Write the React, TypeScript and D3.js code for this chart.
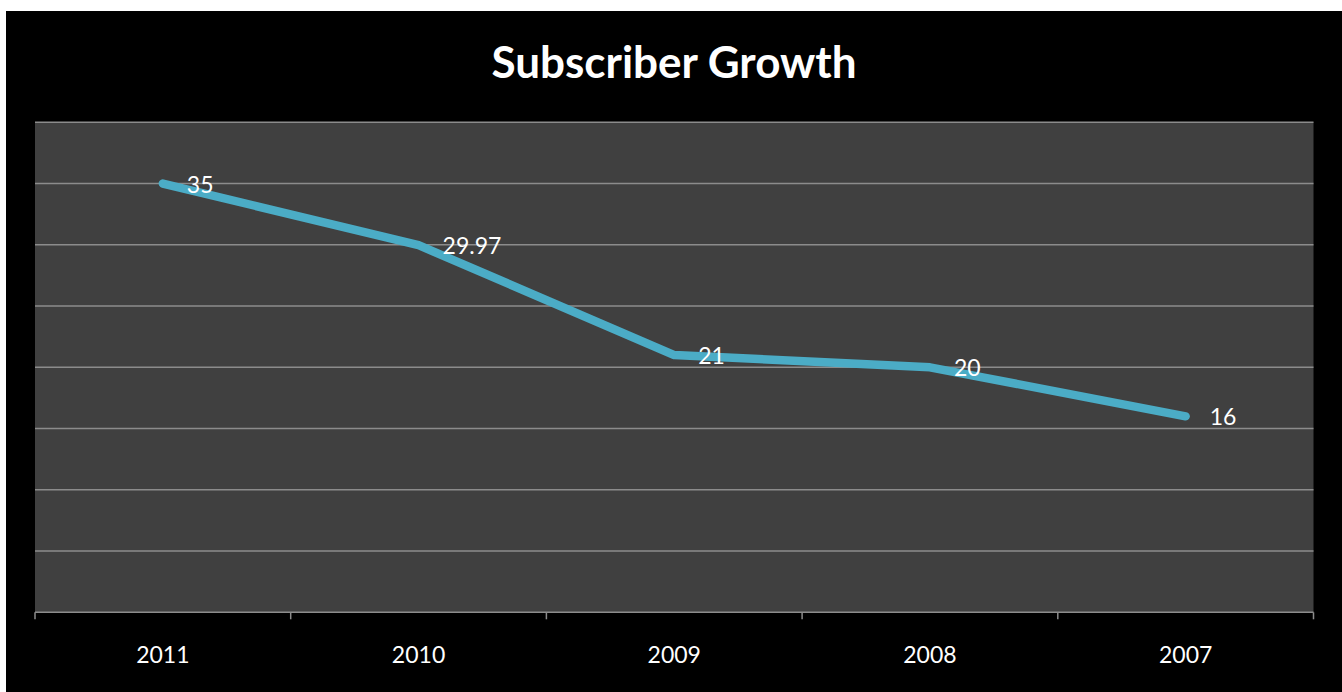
import React from "react";
import * as d3 from "d3";

const categories = ["2011", "2010", "2009", "2008", "2007"];
const values = [35, 29.97, 21, 20, 16];
const valueLabels = ["35", "29.97", "21", "20", "16"];
const yTicks = [0, 5, 10, 15, 20, 25, 30, 35, 40];
const title = "Subscriber Growth";

const W = 1342;
const H = 692;
const plot = { left: 35, right: 1313.5, top: 122.3, bottom: 612.3 };
const FONT = "Lato, 'Open Sans', sans-serif";

export default function App() {
  const x = d3
    .scaleBand<string>()
    .domain(categories)
    .range([plot.left, plot.right])
    .paddingInner(0)
    .paddingOuter(0);
  const y = d3.scaleLinear().domain([0, 40]).range([plot.bottom, plot.top]);
  const cx = (c: string) => (x(c) as number) + x.bandwidth() / 2;
  const line = d3
    .line<number>()
    .x((_, i) => cx(categories[i]))
    .y((v) => y(v));
  const tickXs = categories.map((c) => x(c) as number).concat([plot.right]);

  return (
    <svg
      width={W}
      height={H}
      style={{ position: "absolute", left: 0, top: 0, display: "block" }}
    >
      <rect x={0} y={0} width={W} height={H} fill="#ffffff" />
      <rect x={6} y={11} width={W - 6} height={H - 11} fill="#000000" />
      <text
        x={674}
        y={78}
        textAnchor="middle"
        fill="#ffffff"
        fontFamily={FONT}
        fontWeight="bold"
        fontSize={44}
      >
        {title}
      </text>
      <rect
        x={plot.left}
        y={plot.top}
        width={plot.right - plot.left}
        height={plot.bottom - plot.top}
        fill="#404040"
      />
      {yTicks.map((t) => (
        <line
          key={t}
          x1={plot.left}
          x2={plot.right}
          y1={y(t)}
          y2={y(t)}
          stroke="#8c8c8c"
          strokeWidth={1.5}
        />
      ))}
      {tickXs.map((tx, i) => (
        <line
          key={i}
          x1={tx}
          x2={tx}
          y1={plot.bottom}
          y2={plot.bottom + 7}
          stroke="#8c8c8c"
          strokeWidth={1.5}
        />
      ))}
      <path
        d={line(values) || ""}
        fill="none"
        stroke="#4bacc6"
        strokeWidth={8.5}
        strokeLinecap="round"
        strokeLinejoin="round"
      />
      {values.map((v, i) => (
        <text
          key={i}
          x={cx(categories[i]) + 24}
          y={y(v) + 9}
          fill="#ffffff"
          fontFamily={FONT}
          fontSize={23}
        >
          {valueLabels[i]}
        </text>
      ))}
      {categories.map((c) => (
        <text
          key={c}
          x={cx(c)}
          y={663}
          textAnchor="middle"
          fill="#ffffff"
          fontFamily={FONT}
          fontSize={23}
        >
          {c}
        </text>
      ))}
    </svg>
  );
}
